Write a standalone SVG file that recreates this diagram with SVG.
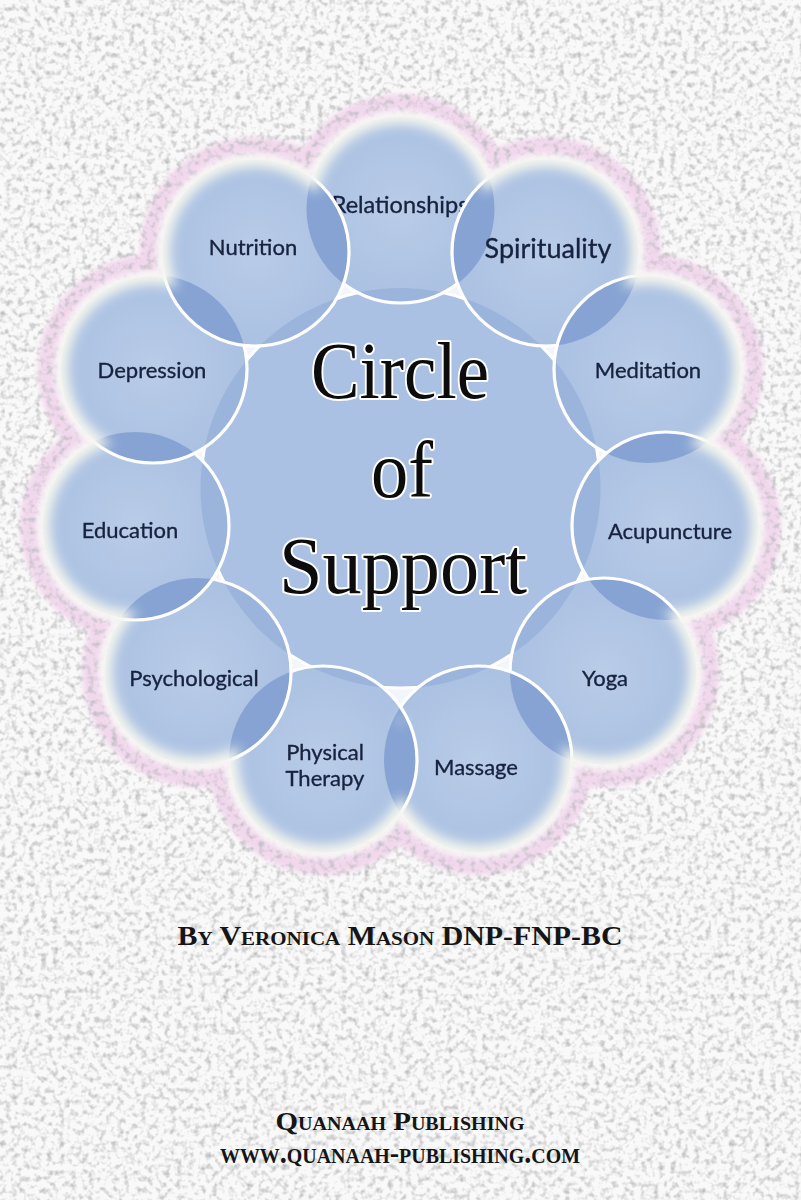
<svg xmlns="http://www.w3.org/2000/svg" width="801" height="1200" viewBox="0 0 801 1200">
<defs>
<style>
.lbl{font-family:Lato,"Open Sans","Liberation Sans",sans-serif;font-size:22px;fill:#17223f;stroke:#17223f;stroke-width:0.35px;text-anchor:middle}
.fillc{fill:url(#gOuter)}
.lens{fill:#86a3d3}
.sliver{fill:#9bb4dc}
.edge{fill:none;stroke:#ffffff;stroke-width:3.2}
.title{font-family:"Liberation Serif","Times New Roman",serif;font-size:80px;fill:#0c0c0c;stroke:#ffffff;stroke-width:4;paint-order:stroke;stroke-linejoin:round;text-anchor:middle}
.cred{font-family:"Liberation Serif","Times New Roman",serif;font-weight:bold;font-variant:small-caps;fill:#151515;text-anchor:middle}
</style>
<radialGradient id="gOuter" cx="0.5" cy="0.5" r="0.5">
<stop offset="0" stop-color="#b9cce8"/>
<stop offset="1" stop-color="#abc1e2"/>
</radialGradient>
<filter id="tex" filterUnits="userSpaceOnUse" x="0" y="0" width="801" height="1200" color-interpolation-filters="sRGB">
<feTurbulence type="fractalNoise" baseFrequency="0.17" numOctaves="2" seed="5"/>
<feColorMatrix type="matrix" values="0 0 0 0 0.74  0 0 0 0 0.74  0 0 0 0 0.75  -2.4 0 0 0 1.28"/>
<feGaussianBlur stdDeviation="0.5"/>
</filter>
<filter id="b2" filterUnits="userSpaceOnUse" x="0" y="0" width="801" height="1200"><feGaussianBlur stdDeviation="2.5"/></filter>
<filter id="b6" filterUnits="userSpaceOnUse" x="0" y="0" width="801" height="1200"><feGaussianBlur stdDeviation="6"/></filter>
<clipPath id="cC"><circle cx="400.5" cy="488" r="200"/></clipPath>
<clipPath id="c1"><circle cx="400.5" cy="209" r="94"/></clipPath>
<clipPath id="c2"><circle cx="546" cy="252" r="94"/></clipPath>
<clipPath id="c3"><circle cx="648" cy="369" r="94"/></clipPath>
<clipPath id="c4"><circle cx="666" cy="526" r="94"/></clipPath>
<clipPath id="c5"><circle cx="604" cy="672" r="94"/></clipPath>
<clipPath id="c6"><circle cx="478" cy="760" r="94"/></clipPath>
<clipPath id="c7"><circle cx="323" cy="760" r="94"/></clipPath>
<clipPath id="c8"><circle cx="197" cy="672" r="94"/></clipPath>
<clipPath id="c9"><circle cx="135" cy="526" r="94"/></clipPath>
<clipPath id="c10"><circle cx="153" cy="369" r="94"/></clipPath>
<mask id="soft" maskUnits="userSpaceOnUse" x="0" y="0" width="801" height="1200">
<g fill="#ffffff" filter="url(#b6)">
<circle cx="400.5" cy="488" r="230"/>
<circle cx="400.5" cy="209" r="85"/><circle cx="546" cy="252" r="85"/><circle cx="648" cy="369" r="85"/><circle cx="666" cy="526" r="85"/><circle cx="604" cy="672" r="85"/><circle cx="478" cy="760" r="85"/><circle cx="323" cy="760" r="85"/><circle cx="197" cy="672" r="85"/><circle cx="135" cy="526" r="85"/><circle cx="153" cy="369" r="85"/><circle cx="255" cy="252" r="85"/>
</g>
</mask>
</defs>

<g id="background">
<rect width="801" height="1200" fill="#f9f9f9"/>
<g id="pink-halo" fill="#f2d8ed" filter="url(#b2)">
<circle cx="400.5" cy="488" r="240"/>
<circle cx="400.5" cy="209" r="115"/><circle cx="546" cy="252" r="115"/><circle cx="648" cy="369" r="115"/><circle cx="666" cy="526" r="115"/><circle cx="604" cy="672" r="115"/><circle cx="478" cy="760" r="115"/><circle cx="323" cy="760" r="115"/><circle cx="197" cy="672" r="115"/><circle cx="135" cy="526" r="115"/><circle cx="153" cy="369" r="115"/><circle cx="255" cy="252" r="115"/>
</g>
<rect width="801" height="1200" fill="#000" filter="url(#tex)"/>
<g id="inner-light" fill="#faf9fa" opacity="0.8" filter="url(#b2)">
<circle cx="400.5" cy="488" r="230"/>
<circle cx="400.5" cy="209" r="99"/><circle cx="546" cy="252" r="99"/><circle cx="648" cy="369" r="99"/><circle cx="666" cy="526" r="99"/><circle cx="604" cy="672" r="99"/><circle cx="478" cy="760" r="99"/><circle cx="323" cy="760" r="99"/><circle cx="197" cy="672" r="99"/><circle cx="135" cy="526" r="99"/><circle cx="153" cy="369" r="99"/><circle cx="255" cy="252" r="99"/>
</g>
<g id="glow" fill="#f5f8ee" opacity="0.9" filter="url(#b2)">
<circle cx="400.5" cy="488" r="230"/>
<circle cx="400.5" cy="209" r="94"/><circle cx="546" cy="252" r="94"/><circle cx="648" cy="369" r="94"/><circle cx="666" cy="526" r="94"/><circle cx="604" cy="672" r="94"/><circle cx="478" cy="760" r="94"/><circle cx="323" cy="760" r="94"/><circle cx="197" cy="672" r="94"/><circle cx="135" cy="526" r="94"/><circle cx="153" cy="369" r="94"/><circle cx="255" cy="252" r="94"/>
</g>
</g>

<g id="cluster" mask="url(#soft)">
<g id="n-center">
<circle cx="400.5" cy="488" r="218" fill="#f2f5fb"/>
<circle cx="400.5" cy="488" r="200" fill="#abc1e3" stroke="#ffffff" stroke-width="3"/>
</g>
<g id="n-relationships">
<circle class="fillc" cx="400.5" cy="209" r="94"/>
<circle class="sliver" cx="400.5" cy="209" r="94" clip-path="url(#cC)"/>
<circle class="edge" cx="400.5" cy="209" r="94"/>
<text class="lbl" x="400" y="213" style="font-size:23.5px">Relationships</text>
</g>
<g id="n-spirituality">
<circle class="fillc" cx="546" cy="252" r="94"/>
<circle class="lens" cx="546" cy="252" r="94" clip-path="url(#c1)"/>
<circle class="sliver" cx="546" cy="252" r="94" clip-path="url(#cC)"/>
<circle class="edge" cx="546" cy="252" r="94"/>
<text class="lbl" x="548" y="258" style="font-size:27px">Spirituality</text>
</g>
<g id="n-meditation">
<circle class="fillc" cx="648" cy="369" r="94"/>
<circle class="lens" cx="648" cy="369" r="94" clip-path="url(#c2)"/>
<circle class="sliver" cx="648" cy="369" r="94" clip-path="url(#cC)"/>
<circle class="edge" cx="648" cy="369" r="94"/>
<text class="lbl" x="648" y="378">Meditation</text>
</g>
<g id="n-acupuncture">
<circle class="fillc" cx="666" cy="526" r="94"/>
<circle class="lens" cx="666" cy="526" r="94" clip-path="url(#c3)"/>
<circle class="sliver" cx="666" cy="526" r="94" clip-path="url(#cC)"/>
<circle class="edge" cx="666" cy="526" r="94"/>
<text class="lbl" x="670" y="539">Acupuncture</text>
</g>
<g id="n-yoga">
<circle class="fillc" cx="604" cy="672" r="94"/>
<circle class="lens" cx="604" cy="672" r="94" clip-path="url(#c4)"/>
<circle class="sliver" cx="604" cy="672" r="94" clip-path="url(#cC)"/>
<circle class="edge" cx="604" cy="672" r="94"/>
<text class="lbl" x="605" y="686">Yoga</text>
</g>
<g id="n-massage">
<circle class="fillc" cx="478" cy="760" r="94"/>
<circle class="lens" cx="478" cy="760" r="94" clip-path="url(#c5)"/>
<circle class="sliver" cx="478" cy="760" r="94" clip-path="url(#cC)"/>
<circle class="edge" cx="478" cy="760" r="94"/>
<text class="lbl" x="476" y="775">Massage</text>
</g>
<g id="n-physical-therapy">
<circle class="fillc" cx="323" cy="760" r="94"/>
<circle class="lens" cx="323" cy="760" r="94" clip-path="url(#c6)"/>
<circle class="sliver" cx="323" cy="760" r="94" clip-path="url(#cC)"/>
<circle class="edge" cx="323" cy="760" r="94"/>
<text class="lbl" x="325" y="760">Physical</text>
<text class="lbl" x="325" y="786">Therapy</text>
</g>
<g id="n-psychological">
<circle class="fillc" cx="197" cy="672" r="94"/>
<circle class="lens" cx="197" cy="672" r="94" clip-path="url(#c7)"/>
<circle class="sliver" cx="197" cy="672" r="94" clip-path="url(#cC)"/>
<circle class="edge" cx="197" cy="672" r="94"/>
<text class="lbl" x="194" y="686">Psychological</text>
</g>
<g id="n-education">
<circle class="fillc" cx="135" cy="526" r="94"/>
<circle class="lens" cx="135" cy="526" r="94" clip-path="url(#c8)"/>
<circle class="sliver" cx="135" cy="526" r="94" clip-path="url(#cC)"/>
<circle class="edge" cx="135" cy="526" r="94"/>
<text class="lbl" x="130" y="538">Education</text>
</g>
<g id="n-depression">
<circle class="fillc" cx="153" cy="369" r="94"/>
<circle class="lens" cx="153" cy="369" r="94" clip-path="url(#c9)"/>
<circle class="sliver" cx="153" cy="369" r="94" clip-path="url(#cC)"/>
<circle class="edge" cx="153" cy="369" r="94"/>
<text class="lbl" x="152" y="378">Depression</text>
</g>
<g id="n-nutrition">
<circle class="fillc" cx="255" cy="252" r="94"/>
<circle class="lens" cx="255" cy="252" r="94" clip-path="url(#c10)"/>
<circle class="lens" cx="255" cy="252" r="94" clip-path="url(#c1)"/>
<circle class="sliver" cx="255" cy="252" r="94" clip-path="url(#cC)"/>
<circle class="edge" cx="255" cy="252" r="94"/>
<text class="lbl" x="253" y="255">Nutrition</text>
</g>
</g>

<g id="title">
<text class="title" x="400" y="398" textLength="178" lengthAdjust="spacingAndGlyphs">Circle</text>
<text class="title" x="402" y="497" textLength="62" lengthAdjust="spacingAndGlyphs">of</text>
<text class="title" x="403" y="593" textLength="248" lengthAdjust="spacingAndGlyphs">Support</text>
</g>

<g id="credits">
<text class="cred" x="400" y="945" style="font-size:27px" textLength="445" lengthAdjust="spacingAndGlyphs">By Veronica Mason DNP-FNP-BC</text>
<text class="cred" x="400" y="1130" style="font-size:26px" textLength="249" lengthAdjust="spacingAndGlyphs">Quanaah Publishing</text>
<text class="cred" x="400" y="1163" style="font-size:31px" textLength="360" lengthAdjust="spacingAndGlyphs">www.quanaah-publishing.com</text>
</g>
</svg>
